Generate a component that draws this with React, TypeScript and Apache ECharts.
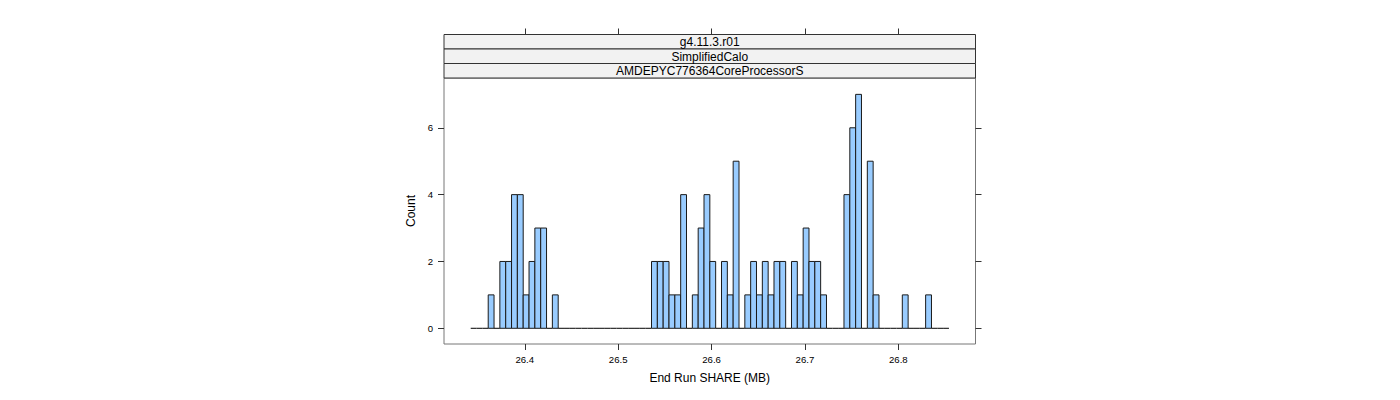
import React, { useEffect, useRef } from "react";
import * as echarts from "echarts";

// Histogram definition (End Run SHARE, MB)
const breaksStart = 26.3421;
const binWidth = 0.006245;
const counts = [
  0, 0, 0, 1, 0, 2, 2, 4, 4, 1, 2, 3, 3, 0, 1,
  0, 0, 0, 0, 0, 0, 0, 0, 0, 0, 0, 0, 0, 0, 0, 0,
  2, 2, 2, 1, 1, 4, 0, 1, 3, 4, 2, 0, 2, 1, 5, 0, 1, 2, 1, 2, 1, 2, 2, 0, 2, 1, 3, 2, 2, 1,
  0, 0, 0, 4, 6, 7, 0, 5, 1, 0, 0, 0, 0, 1, 0, 0, 0, 1, 0, 0, 0,
];
const xTicks = [26.4, 26.5, 26.6, 26.7, 26.8];
const yTicks = [0, 2, 4, 6];
const stripLabels = ["g4.11.3.r01", "SimplifiedCalo", "AMDEPYC776364CoreProcessorS"];
const xTitle = "End Run SHARE (MB)";
const yTitle = "Count";

const FONT = "'Liberation Sans', Arial, sans-serif";

export default function App() {
  const ref = useRef<HTMLDivElement>(null);
  useEffect(() => {
    if (!ref.current) return;
    const chart = echarts.init(ref.current, null, { renderer: "svg" });
    const gridLeft = 444;
    const gridTop = 78;
    const gridW = 531.5;
    const gridH = 266;
    const stripH = 14.5;
    const data = counts.map((c, i) => [
      breaksStart + i * binWidth,
      breaksStart + (i + 1) * binWidth,
      c,
    ]);
    const strips: any[] = [];
    stripLabels.forEach((s, i) => {
      const y = gridTop - stripH * (stripLabels.length - i);
      strips.push({
        type: "rect",
        shape: { x: gridLeft, y, width: gridW, height: stripH },
        style: { fill: "#f2f2f2", stroke: "#333", lineWidth: 1 },
        z: 10,
      });
      strips.push({
        type: "text",
        x: gridLeft + gridW / 2,
        y: y + stripH / 2 + 0.5,
        style: {
          text: s,
          fill: "#000",
          font: `12px ${FONT}`,
          align: "center",
          verticalAlign: "middle",
        },
        z: 11,
      });
    });
    const tickStyle = { show: true, length: 6, inside: false, lineStyle: { color: "#333", width: 1 } };
    const noLine = { show: false, onZero: false };
    chart.setOption({
      animation: false,
      textStyle: { fontFamily: FONT },
      grid: {
        left: gridLeft,
        top: gridTop,
        width: gridW,
        height: gridH,
        show: true,
        borderColor: "#777",
        borderWidth: 1,
        backgroundColor: "transparent",
      },
      xAxis: [
        {
          type: "value",
          min: 26.3135,
          max: 26.8826,
          position: "bottom",
          axisLine: noLine,
          splitLine: { show: false },
          axisTick: { ...tickStyle, customValues: xTicks },
          axisLabel: {
            customValues: xTicks,
            formatter: (v: number) => v.toFixed(1),
            fontSize: 9.6,
            color: "#000",
            margin: 10,
            fontFamily: FONT,
          },
          name: xTitle,
          nameLocation: "middle",
          nameGap: 28,
          nameTextStyle: { fontSize: 12, color: "#000", fontFamily: FONT },
        },
        {
          type: "value",
          min: 26.3135,
          max: 26.8826,
          position: "top",
          offset: stripH * 3,
          axisLine: noLine,
          splitLine: { show: false },
          axisTick: { ...tickStyle, customValues: xTicks },
          axisLabel: { show: false, customValues: xTicks },
        },
      ],
      yAxis: [
        {
          type: "value",
          min: -0.47,
          max: 7.49,
          position: "left",
          axisLine: noLine,
          splitLine: { show: false },
          axisTick: { ...tickStyle, customValues: yTicks },
          axisLabel: {
            customValues: yTicks,
            fontSize: 9.6,
            color: "#000",
            margin: 11,
            fontFamily: FONT,
          },
          name: yTitle,
          nameLocation: "middle",
          nameGap: 27,
          nameRotate: 90,
          nameTextStyle: { fontSize: 12, color: "#000", fontFamily: FONT },
        },
        {
          type: "value",
          min: -0.47,
          max: 7.49,
          position: "right",
          axisLine: noLine,
          splitLine: { show: false },
          axisTick: { ...tickStyle, customValues: yTicks },
          axisLabel: { show: false, customValues: yTicks },
        },
      ],
      graphic: strips,
      series: [
        {
          type: "custom",
          xAxisIndex: 0,
          yAxisIndex: 0,
          data,
          renderItem: (params: any, api: any) => {
            const x0 = api.value(0);
            const x1 = api.value(1);
            const c = api.value(2);
            const p0 = api.coord([x0, 0]);
            const p1 = api.coord([x1, c]);
            if (c === 0) {
              return {
                type: "line",
                shape: { x1: p0[0], y1: p0[1], x2: p1[0], y2: p0[1] },
                style: { stroke: "#000", lineWidth: 1 },
              };
            }
            return {
              type: "rect",
              shape: { x: p0[0], y: p1[1], width: p1[0] - p0[0], height: p0[1] - p1[1] },
              style: { fill: "#99CCFF", stroke: "#1a1a1a", lineWidth: 1 },
            };
          },
        },
      ],
    });
    return () => chart.dispose();
  }, []);
  return (
    <div
      ref={ref}
      style={{ position: "fixed", left: 0, top: 0, width: 1400, height: 400, background: "#fff" }}
    />
  );
}
